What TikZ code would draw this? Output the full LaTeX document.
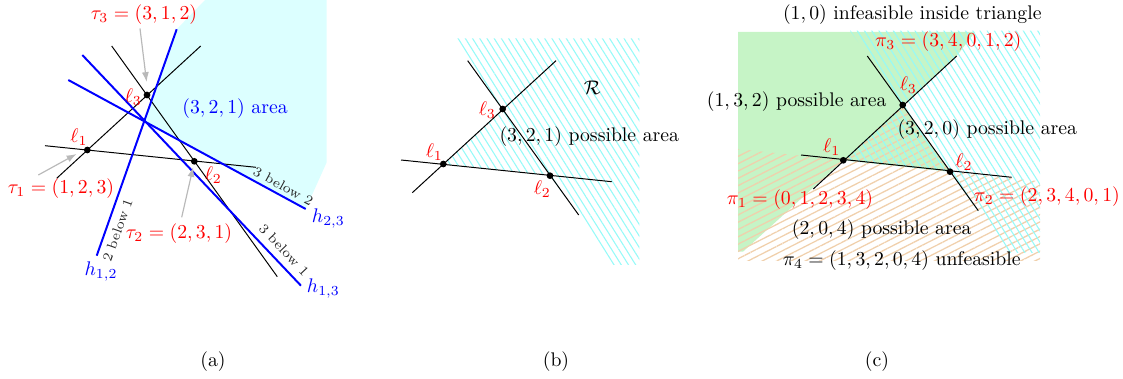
\documentclass[tikz,border=0pt]{standalone}
\usetikzlibrary{patterns.meta,arrows.meta,calc}
\definecolor{cyfill}{RGB}{220,255,255}
\definecolor{grfill}{RGB}{198,244,198}
\definecolor{hcy}{RGB}{150,250,248}
\definecolor{hor}{RGB}{240,208,172}
\definecolor{arrgray}{RGB}{185,185,185}
\begin{document}
\begin{tikzpicture}[x=0.5067pt,y=-0.5067pt,
  ln/.style={line width=0.5pt},
  hb/.style={blue,line width=1pt},
  dot/.style={circle,fill=black,inner sep=0pt,minimum size=3.4pt},
  rl/.style={text=red},
  bll/.style={text=blue},
  sm/.style={font=\scriptsize,text=black!85,inner sep=0pt},
  garr/.style={draw=arrgray,line width=0.6pt,-{Latex[length=5pt,width=3.6pt]}},
  cyhatch/.style={pattern={Lines[angle=-58,distance=3.1pt,line width=0.55pt]},pattern color=hcy},
  orhatch/.style={pattern={Lines[angle=27,distance=3.3pt,line width=0.65pt]},pattern color=hor}]
\useasboundingbox (0,0) rectangle (1123,379);

% ---------------- panel (a) ----------------
\coordinate (A1) at (87.3,150);
\coordinate (A2) at (194.3,161.3);
\coordinate (A3) at (147,95);
\coordinate (a13s) at (56.7,178.3);
\coordinate (a13e) at (200.7,46);
\coordinate (a12s) at (45,145.7);
\coordinate (a12e) at (256,167.3);
\coordinate (a32s) at (111.7,46);
\coordinate (a32e) at (277.3,276.7);
\coordinate (h12t) at (176.7,29.3);
\coordinate (h12b) at (96.7,255.7);
\coordinate (h13s) at (82.3,55);
\coordinate (h13e) at (301,285.7);
\coordinate (h23s) at (68.3,80);
\coordinate (h23e) at (305.7,209);
\coordinate (X) at (intersection of h12t--h12b and h23s--h23e);
\coordinate (cy1) at (205,0);
\coordinate (cy2) at (326.7,0);
\coordinate (cy3) at (326.7,162.3);
\fill[cyfill] (h23e) -- (X) -- (h12t) -- (cy1) -- (cy2) -- (cy3) -- cycle;

\draw[ln] (a13s) -- (a13e);
\draw[ln] (a12s) -- (a12e);
\draw[ln] (a32s) -- (a32e);
\draw[hb] (h12t) -- (h12b);
\draw[hb] (h13s) -- (h13e);
\draw[hb] (h23s) -- (h23e);
\node[dot] (d1) at (A1) {};
\node[dot] (d2) at (A2) {};
\node[dot] (d3) at (A3) {};

\node[rl] (t3) at (144,15) {$\tau_3=(3,1,2)$};
\node[rl] (t1) at (61,188.3) {$\tau_1=(1,2,3)$};
\node[rl] (t2) at (179,233.3) {$\tau_2=(2,3,1)$};
\coordinate (t3a) at (140,28.5);
\coordinate (t3b) at (146.6,82);
\coordinate (t1a) at (38.3,175);
\coordinate (t1b) at (76.5,154);
\coordinate (t2a) at (181.7,217.3);
\coordinate (t2b) at (193.2,167);
\draw[garr] (t3a) -- (t3b);
\draw[garr] (t1a) -- (t1b);
\draw[garr] (t2a) -- (t2b);

\node[rl] (la1) at (79,136.7) {$\ell_1$};
\node[rl] (la2) at (213.3,175) {$\ell_2$};
\node[rl] (la3) at (133.3,96.7) {$\ell_3$};
\node[bll] (area) at (235,108.3) {$(3,2,1)$ area};
\node[bll] (lh12) at (101,271.7) {$h_{1,2}$};
\node[bll] (lh23) at (328.3,218.3) {$h_{2,3}$};
\node[bll] (lh13) at (323.3,288.3) {$h_{1,3}$};
\node[sm,rotate=70.5] (s21) at (117.5,230) {2 below 1};
\node[sm,rotate=-28.5] (s32) at (283.3,186) {3 below 2};
\node[sm,rotate=-46.5] (s31) at (284,250) {3 below 1};

% ---------------- panel (b) ----------------
\coordinate (B1) at (443.3,164);
\coordinate (B2) at (550,175.7);
\coordinate (B3) at (502.7,109);
\coordinate (b13s) at (412.3,192.7);
\coordinate (b13e) at (556,60.7);
\coordinate (b12s) at (401,160);
\coordinate (b12e) at (611.7,181.7);
\coordinate (b32s) at (467.7,60.7);
\coordinate (b32e) at (578.7,215);
\coordinate (r1) at (454,38.3);
\coordinate (r2) at (613.3,265);
\coordinate (r3) at (639.3,265);
\coordinate (r4) at (639.3,38.3);
\fill[cyhatch] (r1) -- (B3) -- (B1) -- (B2) -- (r2) -- (r3) -- (r4) -- cycle;
\draw[ln] (b13s) -- (b13e);
\draw[ln] (b12s) -- (b12e);
\draw[ln] (b32s) -- (b32e);
\node[dot] (e1) at (B1) {};
\node[dot] (e2) at (B2) {};
\node[dot] (e3) at (B3) {};
\node[rl] (lb1) at (434.3,151.7) {$\ell_1$};
\node[rl] (lb2) at (542.3,189.3) {$\ell_2$};
\node[rl] (lb3) at (487.3,110) {$\ell_3$};
\node (Rlab) at (592.3,87.3) {$\mathcal{R}$};
\node (bposs) at (589.3,136.7) {$(3,2,1)$ possible area};

% ---------------- panel (c) ----------------
\coordinate (C1) at (843.3,160.3);
\coordinate (C2) at (950,171.7);
\coordinate (C3) at (902.7,105);
\coordinate (c13s) at (813.3,189);
\coordinate (c13e) at (956.7,56);
\coordinate (c12s) at (801,155);
\coordinate (c12e) at (1011.7,177.3);
\coordinate (c32s) at (867.3,56);
\coordinate (c32e) at (978.3,210.7);
\coordinate (g1) at (738,32);
\coordinate (g2) at (975,32);
\coordinate (g3) at (956.7,56);
\coordinate (g4) at (743,251.7);
\coordinate (g5) at (738,251.7);
\fill[grfill] (g1) -- (g2) -- (g3) -- (C3) -- (C2) -- (C1) -- (g4) -- (g5) -- cycle;
\coordinate (o1) at (738,149);
\coordinate (o2) at (1040,181.3);
\coordinate (o3) at (1040,261);
\coordinate (o4) at (738,261);
\fill[orhatch] (o1) -- (C1) -- (C3) -- (C2) -- (o2) -- (o3) -- (o4) -- cycle;
\coordinate (k1) at (850,30.7);
\coordinate (k2) at (1007.6,253);
\coordinate (k3) at (1040,253);
\coordinate (k4) at (1040,30.7);
\fill[cyhatch] (k1) -- (C3) -- (C1) -- (C2) -- (k2) -- (k3) -- (k4) -- cycle;
\draw[ln] (c13s) -- (c13e);
\draw[ln] (c12s) -- (c12e);
\draw[ln] (c32s) -- (c32e);
\node[dot] (f1) at (C1) {};
\node[dot] (f2) at (C2) {};
\node[dot] (f3) at (C3) {};
\node (ctitle) at (912.3,15) {$(1,0)$ infeasible inside triangle};
\node[rl] (p3) at (948.3,41.7) {$\pi_3=(3,4,0,1,2)$};
\node[rl] (p1) at (800,200) {$\pi_1=(0,1,2,3,4)$};
\node[rl] (p2) at (1046.7,196.7) {$\pi_2=(2,3,4,0,1)$};
\node[rl] (lc1) at (831.7,146.7) {$\ell_1$};
\node[rl] (lc2) at (964,162.3) {$\ell_2$};
\node[rl] (lc3) at (908.3,85) {$\ell_3$};
\node (c132) at (796.7,101.7) {$(1,3,2)$ possible area};
\node (c320) at (987.3,129.3) {$(3,2,0)$ possible area};
\node (c204) at (881.7,229.3) {$(2,0,4)$ possible area};
\node (cp4) at (901.7,261) {$\pi_4=(1,3,2,0,4)$ unfeasible};

% ---------------- captions ----------------
\node (capa) at (213,362) {(a)};
\node (capb) at (556,362) {(b)};
\node (capc) at (877,362) {(c)};
\end{tikzpicture}
\end{document}
